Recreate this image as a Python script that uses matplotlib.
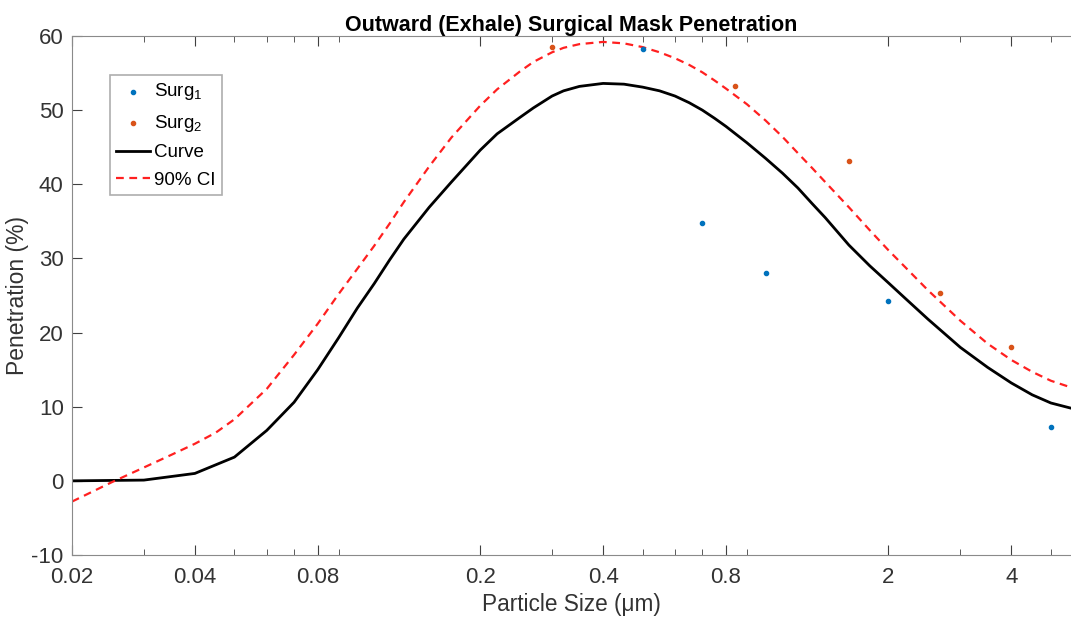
import numpy as np
import matplotlib.pyplot as plt
from matplotlib.ticker import FixedLocator, NullFormatter

plt.rcParams['font.family'] = ['Liberation Sans', 'DejaVu Sans']
plt.rcParams['mathtext.fontset'] = 'custom'
plt.rcParams['mathtext.rm'] = 'Liberation Sans'
plt.rcParams['mathtext.default'] = 'regular'
plt.rcParams['axes.unicode_minus'] = False

# measured points
surg1_x = [0.5, 0.7, 1.0, 2.0, 5.0]
surg1_y = [58.2, 34.8, 28.0, 24.2, 7.3]
surg2_x = [0.3, 0.84, 1.6, 2.67, 4.0]
surg2_y = [58.5, 53.3, 43.1, 25.3, 18.0]

# fitted curve
curve_x = [0.02, 0.03, 0.04, 0.05, 0.06, 0.07, 0.08, 0.09, 0.1, 0.11, 0.12, 0.13, 0.15,
           0.17, 0.2, 0.22, 0.25, 0.27, 0.3, 0.32, 0.35, 0.4, 0.45, 0.5, 0.55, 0.6, 0.65,
           0.7, 0.75, 0.8, 0.9, 1.0, 1.1, 1.2, 1.3, 1.4, 1.6, 1.8, 2.0, 2.2, 2.5, 3.0,
           3.5, 4.0, 4.5, 5.0, 5.6]
curve_y = [0.0, 0.1, 1.0, 3.2, 6.8, 10.6, 15.0, 19.3, 23.3, 26.6, 29.8, 32.6, 36.9,
           40.3, 44.6, 46.8, 49.0, 50.3, 51.9, 52.6, 53.2, 53.6, 53.5, 53.1, 52.6, 51.9, 51.0,
           50.0, 48.9, 47.8, 45.6, 43.5, 41.5, 39.5, 37.4, 35.5, 31.8, 29.0, 26.7, 24.6, 21.8, 18.0,
           15.3, 13.2, 11.6, 10.5, 9.8]

# 90% confidence bound
ci_x = [0.02, 0.025, 0.03, 0.035, 0.04, 0.045, 0.05, 0.06, 0.07, 0.08, 0.09, 0.1, 0.11,
        0.12, 0.13, 0.15, 0.17, 0.2, 0.22, 0.25, 0.27, 0.3, 0.32, 0.35, 0.4, 0.45, 0.5,
        0.55, 0.6, 0.65, 0.7, 0.75, 0.8, 0.9, 1.0, 1.1, 1.2, 1.3, 1.4, 1.6, 1.8, 2.0,
        2.2, 2.5, 3.0, 3.5, 4.0, 4.5, 5.0, 5.6]
ci_y = [-2.8, -0.2, 1.8, 3.5, 5.0, 6.5, 8.3, 12.4, 17.0, 21.2, 25.2, 28.6, 31.7,
        34.7, 37.6, 42.4, 46.3, 50.6, 52.8, 55.2, 56.5, 57.8, 58.4, 58.9, 59.2, 59.0, 58.5,
        57.8, 57.0, 56.1, 55.1, 54.0, 52.9, 50.8, 48.6, 46.4, 44.2, 42.2, 40.3, 36.9, 33.8, 31.1,
        28.8, 25.7, 21.6, 18.5, 16.3, 14.7, 13.5, 12.6]

xticks = [0.02, 0.04, 0.08, 0.2, 0.4, 0.8, 2, 4]
xticklabels = ['0.02', '0.04', '0.08', '0.2', '0.4', '0.8', '2', '4']

fig = plt.figure(figsize=(10.71, 6.17), dpi=100)
ax = fig.add_axes([0.0672, 0.1005, 0.9328, 0.8412])

ax.scatter(surg1_x, surg1_y, s=9, color='#0072BD', label='Surg$_1$', zorder=3)
ax.scatter(surg2_x, surg2_y, s=9, color='#D95319', label='Surg$_2$', zorder=3)
ax.plot(curve_x, curve_y, color='black', lw=2, label='Curve')
ax.plot(ci_x, ci_y, color='#FF2020', lw=1.6, ls=(0, (3.5, 2.5)), label='90% CI')

ax.set_xscale('log')
ax.set_xlim(0.02, 5.6)
ax.set_ylim(-10, 60)
ax.xaxis.set_major_locator(FixedLocator(xticks))
ax.set_xticklabels(xticklabels)
ax.xaxis.set_minor_formatter(NullFormatter())
ax.set_yticks(np.arange(-10, 61, 10))

ax.tick_params(which='both', direction='in', top=True, right=False, colors='#404040',
               labelsize=16, labelcolor='#333333')
ax.tick_params(axis='x', which='major', pad=9)
ax.tick_params(axis='y', which='major', pad=6)
ax.tick_params(which='major', length=7)
ax.tick_params(which='minor', length=4)
for side in ['left', 'bottom', 'top']:
    ax.spines[side].set_color('#8a8a8a')
ax.spines['right'].set_visible(False)

ax.set_xlabel('Particle Size (\u03bcm)', fontsize=16.3, color='#333333', labelpad=3)
ax.set_ylabel('Penetration (%)', fontsize=16.5, color='#333333', labelpad=2)
ax.set_title('Outward (Exhale) Surgical Mask Penetration', fontsize=15.5, fontweight='bold', pad=3)

leg = ax.legend(loc='upper left', bbox_to_anchor=(0.038, 0.925), borderaxespad=0,
                fontsize=13.5, fancybox=False, edgecolor='#9a9a9a', handlelength=1.8,
                handletextpad=0.2, labelspacing=0.55, borderpad=0.35, markerscale=1.0)
leg.get_frame().set_linewidth(1.2)

fig.savefig('out.png', dpi=100)
